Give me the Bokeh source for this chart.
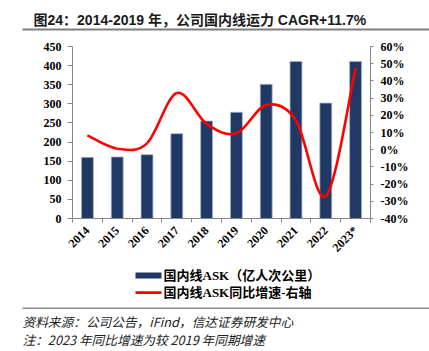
import math
from bokeh.plotting import figure
from bokeh.models import (Range1d, LinearAxis, FixedTicker, PrintfTickFormatter,
                          Label, BoxAnnotation, ColumnDataSource)
from bokeh.embed import file_html
from bokeh.resources import INLINE

# ---- data ----
years = ["2014", "2015", "2016", "2017", "2018", "2019", "2020", "2021", "2022", "2023*"]
ask = [160, 161, 167, 222, 255, 278, 351, 411, 302, 411]          # 国内线ASK（亿人次公里）
growth = [8.3, 0.6, 3.7, 33.0, 15.0, 9.5, 26.0, 17.0, -27.0, 47.5]  # 同比增速 %
left_ticks = [0, 50, 100, 150, 200, 250, 300, 350, 400, 450]
right_ticks = [-40, -30, -20, -10, 0, 10, 20, 30, 40, 50, 60]

title_text = "图24：2014-2019 年，公司国内线运力 CAGR+11.7%"
legend_bar = "国内线ASK（亿人次公里）"
legend_line = "国内线ASK同比增速-右轴"
source_text = "资料来源：公司公告，iFind，信达证券研发中心"
note_text = "注：2023 年同比增速为较 2019 年同期增速"

n = len(years)
xpos = [i + 0.5 for i in range(n)]

# ---- layout constants (pixels) ----
W, H = 429, 351
PL, PR, PT, PB = 72, 370, 46, 218   # plot-area edges inside the canvas

SERIF = "Liberation Serif, Noto Sans CJK SC"
SANS = "Liberation Sans, Noto Sans CJK SC"
AXIS_GRAY = "#868686"

# ranges chosen so that the data area sits at PL..PR / PT..PB while the frame fills the canvas
xppu = (PR - PL) / n
x_rng = Range1d(-PL / xppu, n + (W - PR) / xppu)
y0, y1 = left_ticks[0], left_ticks[-1]
yppu = (PB - PT) / (y1 - y0)
y_rng = Range1d(y0 - (H - PB) / yppu, y1 + PT / yppu)
r0, r1 = right_ticks[0], right_ticks[-1]
rppu = (PB - PT) / (r1 - r0)
r_rng = Range1d(r0 - (H - PB) / rppu, r1 + PT / rppu)

p = figure(width=W, height=H, output_backend="svg", toolbar_location=None,
           x_range=x_rng, y_range=y_rng,
           min_border_left=0, min_border_right=0, min_border_top=0, min_border_bottom=0)
p.extra_y_ranges = {"pct": r_rng}
p.xgrid.visible = False
p.ygrid.visible = False
p.outline_line_color = None
p.background_fill_color = "white"
p.border_fill_color = "white"

# bars
src = ColumnDataSource(dict(x=xpos, top=ask, year=years))
p.vbar(x="x", top="top", bottom=y0, width=0.4, source=src, fill_color="#1F3864",
       line_color="#A9B6CC", line_width=0.8)

# smoothed growth line (Catmull-Rom -> cubic Bezier through the data points)
pts = list(zip(xpos, growth))
bz = dict(x0=[], y0=[], x1=[], y1=[], cx0=[], cy0=[], cx1=[], cy1=[])
for i in range(n - 1):
    p0 = pts[i - 1] if i > 0 else pts[i]
    p1 = pts[i]
    p2 = pts[i + 1]
    p3 = pts[i + 2] if i + 2 < n else pts[i + 1]
    bz["x0"].append(p1[0]); bz["y0"].append(p1[1])
    bz["x1"].append(p2[0]); bz["y1"].append(p2[1])
    bz["cx0"].append(p1[0] + (p2[0] - p0[0]) / 6); bz["cy0"].append(p1[1] + (p2[1] - p0[1]) / 6)
    bz["cx1"].append(p2[0] - (p3[0] - p1[0]) / 6); bz["cy1"].append(p2[1] - (p3[1] - p1[1]) / 6)
p.bezier(x0="x0", y0="y0", x1="x1", y1="y1", cx0="cx0", cy0="cy0", cx1="cx1", cy1="cy1",
         source=ColumnDataSource(bz), y_range_name="pct", line_color="#FF0000", line_width=2.6)


def style_axis(ax, tick_out, standoff):
    ax.axis_line_color = AXIS_GRAY
    ax.major_tick_line_color = AXIS_GRAY
    ax.major_tick_out = tick_out
    ax.major_tick_in = 0
    ax.minor_tick_line_color = None
    ax.major_label_text_font = SERIF
    ax.major_label_text_font_style = "bold"
    ax.major_label_text_font_size = "12px"
    ax.major_label_text_color = "black"
    ax.major_label_standoff = standoff


# left axis
yl = p.yaxis[0]
yl.ticker = FixedTicker(ticks=left_ticks)
yl.fixed_location = 0
yl.bounds = (y0, y1)
style_axis(yl, 5, 6)

# right axis
yr = LinearAxis(y_range_name="pct", ticker=FixedTicker(ticks=right_ticks),
                formatter=PrintfTickFormatter(format="%d%%"))
yr.fixed_location = n
yr.bounds = (r0, r1)
style_axis(yr, 3, 7)
p.add_layout(yr, "right")

# x axis: labels at centres, ticks at category boundaries
xa = p.xaxis[0]
xa.ticker = FixedTicker(ticks=xpos, minor_ticks=list(range(n + 1)))
xa.major_label_overrides = {x: y for x, y in zip(xpos, years)}
xa.fixed_location = y0
xa.bounds = (0, n)
style_axis(xa, 0, 6)
xa.major_tick_line_color = None
xa.minor_tick_line_color = AXIS_GRAY
xa.minor_tick_out = 4
xa.minor_tick_in = 0
xa.major_label_orientation = math.pi / 4


def box(l, r, t, b, color):
    return BoxAnnotation(left=l, right=r, top=H - t, bottom=H - b,
                         left_units="screen", right_units="screen",
                         top_units="screen", bottom_units="screen",
                         fill_color=color, fill_alpha=1, line_color=None)


def label(x, y, text, font, style, size, color="black"):
    return Label(x=x, y=H - y, x_units="screen", y_units="screen", text=text,
                 text_font=font, text_font_style=style, text_font_size=size,
                 text_color=color, text_baseline="middle")


# title + rule
p.add_layout(label(33, 19, title_text, SANS, "bold", "14px", "#1a1a1a"))
p.add_layout(box(22, W, 28, 30, "#7f7f7f"))

# legend
p.add_layout(box(135, 161, 272, 278, "#1F3864"))
p.add_layout(label(163, 275, legend_bar, SERIF, "bold", "13px"))
p.add_layout(box(135, 161, 290.8, 293.4, "#FF0000"))
p.add_layout(label(163, 292, legend_line, SERIF, "bold", "13px"))

# source / note
p.add_layout(box(22, W, 307, 308.5, "#8c8c8c"))
p.add_layout(label(22, 321, source_text, "Noto Sans CJK SC", "italic", "12.7px", "#222222"))
p.add_layout(label(22, 339, note_text, "Noto Sans CJK SC", "italic", "12.7px", "#222222"))

open("out.html", "w").write(file_html(p, INLINE))
